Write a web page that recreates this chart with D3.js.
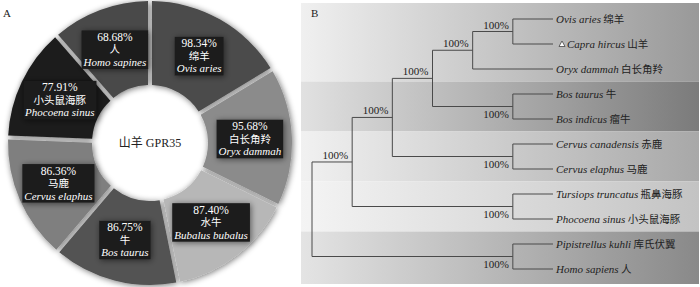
<!DOCTYPE html>
<html><head><meta charset="utf-8">
<script src="https://cdn.jsdelivr.net/npm/d3@7"></script>
<style>
body{margin:0;background:#fff;}
svg{display:block;}
</style></head><body>
<svg id="c" width="700" height="287"></svg>
<script>
// ---------- Data: panel A (donut) ----------
const species   = ["Ovis aries","Oryx dammah","Bubalus bubalus","Bos taurus","Cervus elaphus","Phocoena sinus","Homo sapines"];
const speciesCN = ["绵羊","白长角羚","水牛","牛","马鹿","小头鼠海豚","人"];
const identity  = [98.34,95.68,87.40,86.75,86.36,77.91,68.68];
const centerLabel = "山羊 GPR35";

// ---------- Data: panel B (tree) ----------
const treeLeaves   = ["Ovis aries","Capra hircus","Oryx dammah","Bos taurus","Bos indicus","Cervus canadensis","Cervus elaphus","Tursiops truncatus","Phocoena sinus","Pipistrellus kuhli","Homo sapiens"];
const treeLeavesCN = ["绵羊","山羊","白长角羚","牛","瘤牛","赤鹿","马鹿","瓶鼻海豚","小头鼠海豚","库氏伏翼","人"];
const treeTopology = [[[[[[0,1],2],[3,4]],[5,6]],[7,8]],[9,10]];
const supportLabel = "100%";
const queryLeaf = 1;           // Capra hircus (marked with triangle)
const cladeBandSizes = [3,2,2,2,2];

// ---------- Styles ----------
const sliceColors = ["#4b4b4b","#8b8b8b","#b7b7b7","#525252","#7f7f7f","#1d1d1d","#4a4a4a"];
const bandLeft  = ["#f0f0f0","#e1e1e1","#f1f1f1","#f4f4f4","#e4e4e4"];
const bandRight = ["#999999","#7b7b7b","#a8a8a8","#c3c3c3","#898989"];
const SERIF = "'Liberation Serif','Times New Roman','Noto Sans CJK SC',serif";

const svg = d3.select("#c");
const defs = svg.append("defs");

// drop shadow filter
const f = defs.append("filter").attr("id","sh").attr("x","-20%").attr("y","-20%").attr("width","140%").attr("height","140%");
f.append("feGaussianBlur").attr("in","SourceAlpha").attr("stdDeviation",3).attr("result","b");
f.append("feOffset").attr("in","b").attr("dx",1).attr("dy",1).attr("result","o");
f.append("feComponentTransfer").attr("in","o").attr("result","oo")
  .append("feFuncA").attr("type","linear").attr("slope",0.55);
const fm = f.append("feMerge");
fm.append("feMergeNode").attr("in","oo");
fm.append("feMergeNode").attr("in","SourceGraphic");

// ================= Panel A =================
svg.append("text").attr("x",3).attr("y",17).attr("font-family",SERIF).attr("font-size",11).attr("fill","#222").text("A");

const cx = 150, cy = 143, R = 142, r0 = 58;
const pie = d3.pie().sort(null).value(d=>d)(identity);
const arc = d3.arc().innerRadius(r0).outerRadius(R).padAngle(0.028).padRadius(140);
const gA = svg.append("g").attr("transform",`translate(${cx},${cy})`);
gA.append("g").attr("filter","url(#sh)")
  .selectAll("path").data(pie).join("path")
  .attr("d",arc).attr("fill",(d,i)=>sliceColors[i]);

gA.append("text").attr("x",0).attr("y",4).attr("text-anchor","middle")
  .attr("font-family",SERIF).attr("font-size",12).attr("fill","#222").text(centerLabel);

const labArc = d3.arc().innerRadius(100).outerRadius(100);
pie.forEach((d,i)=>{
  const [lx,ly] = labArc.centroid(d);
  const g = gA.append("g").attr("transform",`translate(${lx},${ly})`);
  const box = g.append("rect").attr("fill","#1b1b1b").attr("filter","url(#sh)");
  const t1 = g.append("text").attr("y",-8.5).attr("text-anchor","middle").attr("font-family",SERIF)
    .attr("font-size",11.5).attr("fill","#fff").text(identity[i].toFixed(2)+"%");
  const t2 = g.append("text").attr("y",4).attr("text-anchor","middle").attr("font-family","'Noto Sans CJK SC',sans-serif")
    .attr("font-size",10.5).attr("fill","#fff").text(speciesCN[i]);
  const t3 = g.append("text").attr("y",16.5).attr("text-anchor","middle").attr("font-family",SERIF)
    .attr("font-style","italic").attr("font-size",11).attr("fill","#fff").text(species[i]);
  const w = Math.max(t1.node().getComputedTextLength(),t2.node().getComputedTextLength(),t3.node().getComputedTextLength())+4;
  box.attr("x",-w/2).attr("y",-19).attr("width",w).attr("height",38.5);
});

// ================= Panel B =================
const bx0 = 301, bx1 = 699, by0 = 3, by1 = 284;

const root = d3.hierarchy(treeTopology, d => Array.isArray(d) ? d : null);
const leaves = root.leaves();
const yLeaf = d3.scalePoint().domain(d3.range(treeLeaves.length)).range([19,269]);
const xH = d3.scaleLinear().domain([root.height,0]).range([312,553]);
root.eachAfter(n=>{
  n.px = xH(n.height);
  if(!n.children){ n.py = yLeaf(n.data); }
  else { n.py = d3.mean(n.children,c=>c.py); }
});

// bands from clade groups
let acc = 0;
const bandBounds = [by0];
cladeBandSizes.forEach((s,i)=>{
  acc += s;
  if(i < cladeBandSizes.length-1) bandBounds.push((yLeaf(acc-1)+yLeaf(acc))/2);
});
bandBounds.push(by1);
cladeBandSizes.forEach((s,i)=>{
  const gid = "bg"+i;
  const lg = defs.append("linearGradient").attr("id",gid).attr("x1",0).attr("x2",1).attr("y1",0).attr("y2",0);
  lg.append("stop").attr("offset","0%").attr("stop-color",bandLeft[i]);
  lg.append("stop").attr("offset","100%").attr("stop-color",bandRight[i]);
  svg.append("rect").attr("x",bx0).attr("y",bandBounds[i]).attr("width",bx1-bx0)
    .attr("height",bandBounds[i+1]-bandBounds[i]).attr("fill",`url(#${gid})`);
});

svg.append("text").attr("x",311).attr("y",17).attr("font-family",SERIF).attr("font-size",11).attr("fill","#222").text("B");

const gB = svg.append("g");
const lineCol = "#4a4a4a";
root.descendants().forEach(n=>{
  if(n.children){
    gB.append("line").attr("x1",n.px).attr("x2",n.px)
      .attr("y1",n.children[0].py).attr("y2",n.children[n.children.length-1].py)
      .attr("stroke",lineCol).attr("stroke-width",1);
    n.children.forEach(c=>{
      gB.append("line").attr("x1",n.px).attr("x2",c.px).attr("y1",c.py).attr("y2",c.py)
        .attr("stroke",lineCol).attr("stroke-width",1);
    });
    if(n.parent){
      const first = n.parent.children[0] === n;
      gB.append("text").attr("x",n.px-4).attr("y",first ? n.py-3 : n.py+11.5)
        .attr("text-anchor","end").attr("font-family",SERIF).attr("font-size",11).attr("fill","#222")
        .text(supportLabel);
    }
  }
});

leaves.forEach(l=>{
  const i = l.data;
  let tx = l.px + 3;
  if(i === queryLeaf){
    const s = 3;
    gB.append("path").attr("d",`M${tx+3},${l.py+2.5}L${tx+3+s*2},${l.py+2.5}L${tx+3+s},${l.py-3}Z`)
      .attr("fill","#fff").attr("stroke","#444").attr("stroke-width",0.8);
    tx += 11;
  }
  const t = gB.append("text").attr("x",tx).attr("y",l.py+4).attr("font-family",SERIF)
    .attr("font-size",11).attr("fill","#222");
  t.append("tspan").attr("font-style","italic").text(treeLeaves[i]);
  t.append("tspan").attr("font-family","'Noto Sans CJK SC',sans-serif").attr("font-size",10.5).text(" "+treeLeavesCN[i]);
});
</script>
</body></html>
